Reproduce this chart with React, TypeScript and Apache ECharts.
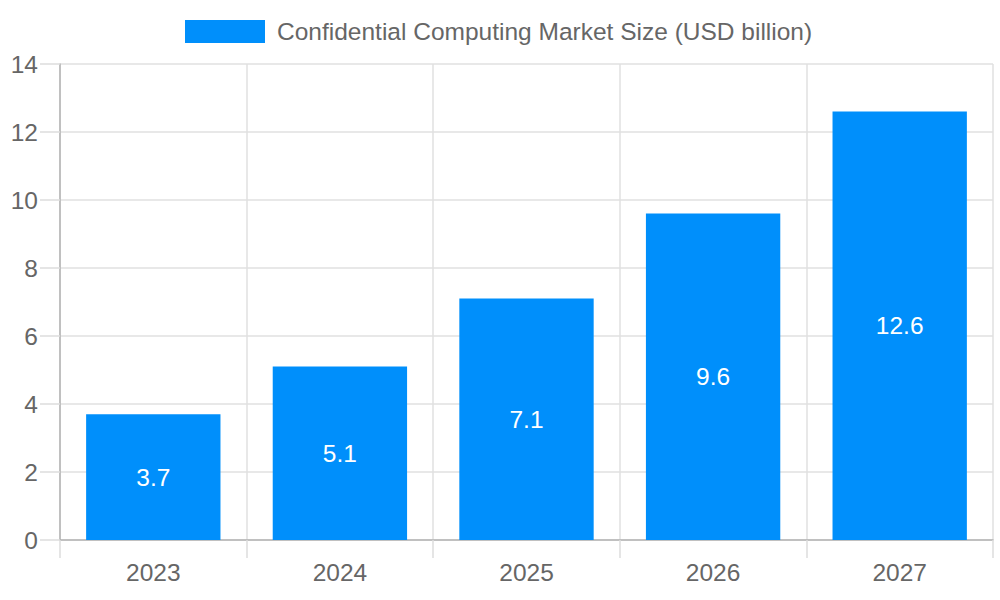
import React, { useEffect, useRef } from "react";
import * as echarts from "echarts";

const categories = ["2023", "2024", "2025", "2026", "2027"];
const marketSize = [3.7, 5.1, 7.1, 9.6, 12.6];
const seriesName = "Confidential Computing Market Size (USD billion)";

export default function App() {
  const ref = useRef<HTMLDivElement>(null);
  useEffect(() => {
    const chart = echarts.init(ref.current!, null, { renderer: "svg" });
    const font = "'Liberation Sans', Arial, sans-serif";
    const fs = 24.5;
    chart.setOption({
      animation: false,
      textStyle: { fontFamily: font },
      legend: {
        top: 14,
        left: 180,
        itemWidth: 80,
        itemHeight: 23,
        itemGap: 12,
        icon: "rect",
        textStyle: { fontSize: fs, color: "#666", fontFamily: font, padding: [0, 0, 0, 7] },
        data: [seriesName],
      },
      grid: { left: 60, right: 7, top: 64, bottom: 60, containLabel: false },
      xAxis: {
        type: "category",
        data: categories,
        boundaryGap: true,
        axisLine: { show: true, lineStyle: { color: "#b3b3b3", width: 1.5 } },
        axisTick: { show: true, length: 18, interval: 0, lineStyle: { color: "#dddddd", width: 1.5 } },
        axisLabel: { fontSize: fs, color: "#666", margin: 20, fontFamily: font },
        splitLine: { show: true, interval: 0, lineStyle: { color: "#e0e0e0", width: 1.5 } },
      },
      yAxis: {
        type: "value",
        min: 0,
        max: 14,
        interval: 2,
        axisLine: { show: true, lineStyle: { color: "#b3b3b3", width: 1.5 } },
        axisTick: { show: true, length: 20, lineStyle: { color: "#dddddd", width: 1.5 } },
        axisLabel: { fontSize: fs, color: "#666", margin: 22, fontFamily: font },
        splitLine: { show: true, lineStyle: { color: "#e0e0e0", width: 1.5 } },
      },
      series: [
        {
          name: seriesName,
          type: "bar",
          data: marketSize,
          barCategoryGap: "28%",
          itemStyle: { color: "#008FFB" },
          label: {
            show: true,
            position: "inside",
            color: "#fff",
            fontSize: fs,
            fontFamily: font,
          },
        },
      ],
    });
    return () => chart.dispose();
  }, []);
  return <div ref={ref} style={{ width: 1000, height: 600, position: "absolute", left: 0, top: 0 }} />;
}
